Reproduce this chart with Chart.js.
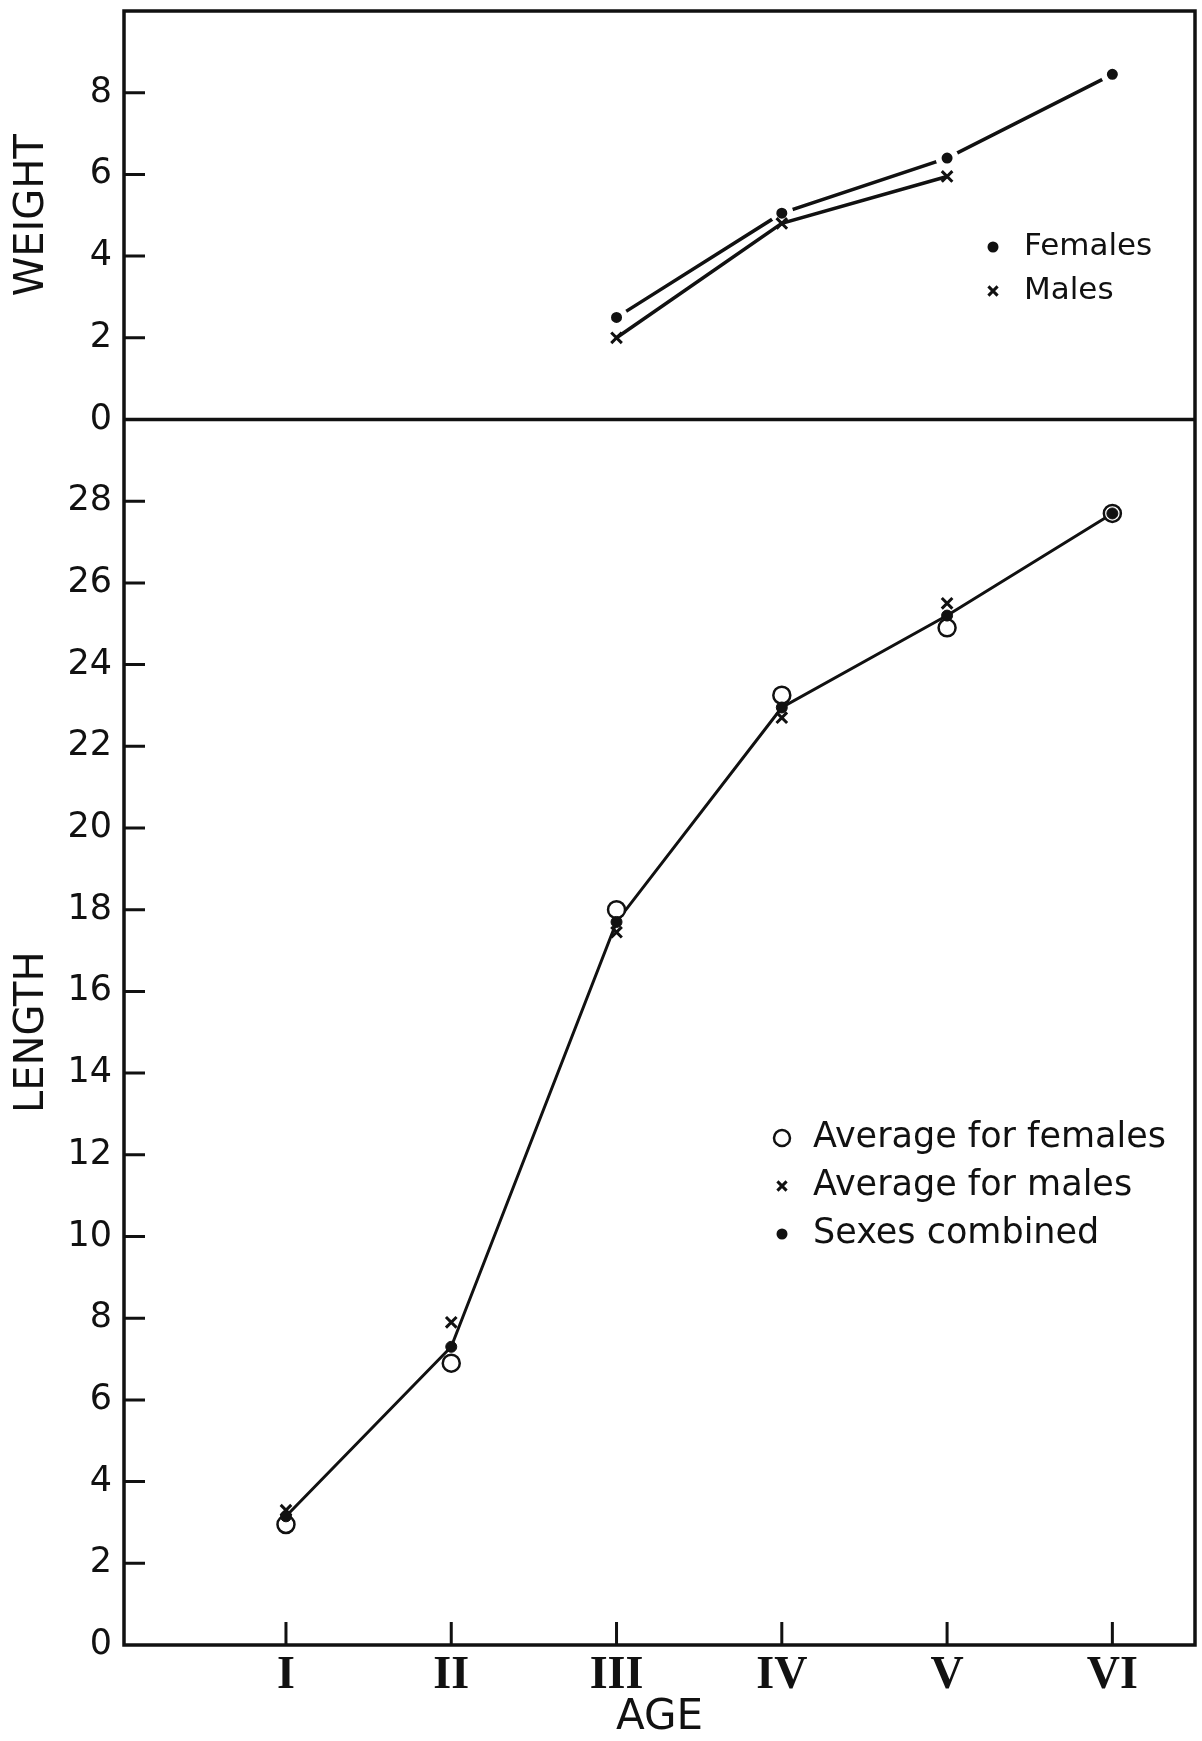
<!DOCTYPE html>
<html>
<head>
<meta charset="utf-8">
<title>Weight and length by age</title>
<script src="https://cdn.jsdelivr.net/npm/chart.js@4.4.1/dist/chart.umd.min.js"></script>
<style>
  body { margin: 0; background: #fff; }
  canvas { display: block; }
</style>
</head>
<body>
<canvas id="grafico" width="1202" height="1741"></canvas>
<script>
const edades = ["I", "II", "III", "IV", "V", "VI"];
const ticksPeso = [0, 2, 4, 6, 8];
const ticksLargo = [0, 2, 4, 6, 8, 10, 12, 14, 16, 18, 20, 22, 24, 26, 28];

const pesoHembras = [null, null, 2.5, 5.05, 6.4, 8.45];
const pesoMachos = [null, null, 2.0, 4.8, 5.95, null];

const largoHembras = [2.95, 6.9, 18.0, 23.25, 24.9, 27.7];
const largoMachos = [3.3, 7.9, 17.45, 22.7, 25.5, null];
const largoCombinado = [3.15, 7.3, 17.7, 22.95, 25.2, 27.7];

const TINTA = "#111";
const FUENTE = "'DejaVu Sans', sans-serif";

Chart.defaults.font.family = FUENTE;
Chart.defaults.color = TINTA;

function aPuntos(valores) {
  return valores.map((v, i) => ({ x: i + 1, y: v }));
}

// el eje no necesita reservar medio rotulo arriba y abajo
function ajustarEjeY(eje) {
  eje.width = 124;
  eje.paddingTop = 0;
  eje.paddingBottom = 0;
}

function ajustarEjeX(eje) {
  eje.height = 96;
  eje.paddingLeft = 0;
  eje.paddingRight = 0;
}

// marcas hacia dentro y el marco del grafico
const marcasInternas = {
  id: "marcasInternas",
  afterDatasetsDraw(chart) {
    const { ctx, chartArea, scales } = chart;
    ctx.save();
    ctx.strokeStyle = TINTA;
    ctx.lineWidth = 3;
    ctx.beginPath();
    ["yPeso", "yLargo"].forEach((id) => {
      const eje = scales[id];
      eje.ticks.forEach((t) => {
        if (t.value === 0) return;
        const y = eje.getPixelForValue(t.value);
        ctx.moveTo(chartArea.left, y);
        ctx.lineTo(chartArea.left + 21, y);
      });
    });
    scales.x.ticks.forEach((t) => {
      const x = scales.x.getPixelForValue(t.value);
      ctx.moveTo(x, chartArea.bottom);
      ctx.lineTo(x, chartArea.bottom - 23);
    });
    ctx.stroke();

    ctx.lineWidth = 3.5;
    ctx.strokeRect(
      chartArea.left,
      chartArea.top,
      chartArea.right - chartArea.left,
      chartArea.bottom - chartArea.top
    );
    const yMedio = scales.yPeso.getPixelForValue(0);
    ctx.beginPath();
    ctx.moveTo(chartArea.left, yMedio);
    ctx.lineTo(chartArea.right, yMedio);
    ctx.stroke();
    ctx.restore();
  },
};

// leyendas dentro de cada panel
const leyendasInternas = {
  id: "leyendasInternas",
  afterDatasetsDraw(chart, args, opciones) {
    const { ctx } = chart;
    opciones.grupos.forEach((grupo) => {
      grupo.items.forEach((indice, fila) => {
        const ds = chart.data.datasets[indice];
        const y = grupo.y + fila * grupo.paso;
        ctx.save();
        ctx.fillStyle = ds.pointBackgroundColor;
        ctx.strokeStyle = ds.pointBorderColor;
        ctx.lineWidth = grupo.bordes[fila];
        Chart.helpers.drawPoint(
          ctx,
          {
            pointStyle: ds.pointStyle,
            radius: grupo.radios[fila],
            borderWidth: grupo.bordes[fila],
            rotation: 0,
          },
          grupo.xMarca,
          y
        );
        ctx.fillStyle = TINTA;
        ctx.font = `${grupo.tamano}px ${FUENTE}`;
        ctx.textBaseline = "middle";
        ctx.textAlign = "left";
        ctx.fillText(ds.label, grupo.xTexto, y);
        ctx.restore();
      });
    });
  },
};

const config = {
  type: "line",
  data: {
    datasets: [
      {
        label: "Females",
        yAxisID: "yPeso",
        data: aPuntos(pesoHembras),
        borderColor: TINTA,
        borderWidth: 3.5,
        pointStyle: "circle",
        pointRadius: 8.5,
        pointBackgroundColor: TINTA,
        pointBorderColor: "#fff",
        pointBorderWidth: 6,
        order: 2,
      },
      {
        label: "Males",
        yAxisID: "yPeso",
        data: aPuntos(pesoMachos),
        borderColor: TINTA,
        borderWidth: 3.5,
        pointStyle: "crossRot",
        pointRadius: 7.5,
        pointBackgroundColor: TINTA,
        pointBorderColor: TINTA,
        pointBorderWidth: 3,
        order: 1,
      },
      {
        label: "Sexes combined line",
        yAxisID: "yLargo",
        data: aPuntos(largoCombinado),
        borderColor: TINTA,
        borderWidth: 3,
        pointRadius: 0,
        order: 6,
      },
      {
        label: "Average for females",
        yAxisID: "yLargo",
        data: aPuntos(largoHembras),
        showLine: false,
        pointStyle: "circle",
        pointRadius: 8.5,
        pointBackgroundColor: "#fff",
        pointBorderColor: TINTA,
        pointBorderWidth: 2.5,
        order: 5,
      },
      {
        label: "Average for males",
        yAxisID: "yLargo",
        data: aPuntos(largoMachos),
        showLine: false,
        pointStyle: "crossRot",
        pointRadius: 7.5,
        pointBackgroundColor: TINTA,
        pointBorderColor: TINTA,
        pointBorderWidth: 3,
        order: 4,
      },
      {
        label: "Sexes combined",
        yAxisID: "yLargo",
        data: aPuntos(largoCombinado),
        showLine: false,
        pointStyle: "circle",
        pointRadius: 5.5,
        pointBackgroundColor: TINTA,
        pointBorderColor: TINTA,
        pointBorderWidth: 1,
        order: 3,
      },
    ],
  },
  options: {
    responsive: false,
    animation: false,
    events: [],
    layout: {
      autoPadding: false,
      padding: { top: 11, right: 7, bottom: 0, left: 0 },
    },
    plugins: {
      legend: { display: false },
      tooltip: { enabled: false },
      leyendasInternas: {
        grupos: [
          {
            items: [0, 1],
            xMarca: 993,
            xTexto: 1024,
            y: 247,
            paso: 44,
            tamano: 31,
            radios: [5.5, 6.5],
            bordes: [0, 3],
          },
          {
            items: [3, 4, 5],
            xMarca: 782,
            xTexto: 813,
            y: 1138,
            paso: 48,
            tamano: 35,
            radios: [8, 6.5, 5.5],
            bordes: [2.5, 3, 0],
          },
        ],
      },
    },
    scales: {
      x: {
        type: "linear",
        min: 0.02,
        max: 6.5,
        afterBuildTicks: (eje) => {
          eje.ticks = edades.map((_, i) => ({ value: i + 1 }));
        },
        afterFit: ajustarEjeX,
        grid: { display: false, drawTicks: false },
        border: { display: false },
        ticks: {
          autoSkip: false,
          maxRotation: 0,
          padding: 8,
          font: { family: "'Liberation Serif', serif", size: 46, weight: "bold", lineHeight: 1 },
          callback: (valor) => edades[valor - 1],
        },
        title: {
          display: true,
          text: "AGE",
          font: { size: 42, lineHeight: 1 },
          padding: { top: 0, bottom: 2 },
        },
      },
      yLargo: {
        type: "linear",
        position: "left",
        stack: "panel",
        stackWeight: 3,
        min: 0,
        max: 30,
        afterBuildTicks: (eje) => {
          eje.ticks = ticksLargo.map((v) => ({ value: v }));
        },
        afterFit: ajustarEjeY,
        grid: { display: false, drawTicks: false },
        border: { display: false },
        ticks: {
          autoSkip: false,
          padding: 12,
          font: { size: 35, lineHeight: 1 },
        },
        title: {
          display: true,
          text: "LENGTH",
          font: { size: 40, lineHeight: 1 },
          padding: { top: 13, bottom: 0 },
        },
      },
      yPeso: {
        type: "linear",
        position: "left",
        stack: "panel",
        stackWeight: 1,
        min: 0,
        max: 10,
        afterBuildTicks: (eje) => {
          eje.ticks = ticksPeso.map((v) => ({ value: v }));
        },
        afterFit: ajustarEjeY,
        grid: { display: false, drawTicks: false },
        border: { display: false },
        ticks: {
          autoSkip: false,
          padding: 12,
          font: { size: 35, lineHeight: 1 },
        },
        title: {
          display: true,
          text: "WEIGHT",
          font: { size: 40, lineHeight: 1 },
          padding: { top: 13, bottom: 0 },
        },
      },
    },
  },
  plugins: [marcasInternas, leyendasInternas],
};

new Chart(document.getElementById("grafico"), config);
</script>
</body>
</html>
